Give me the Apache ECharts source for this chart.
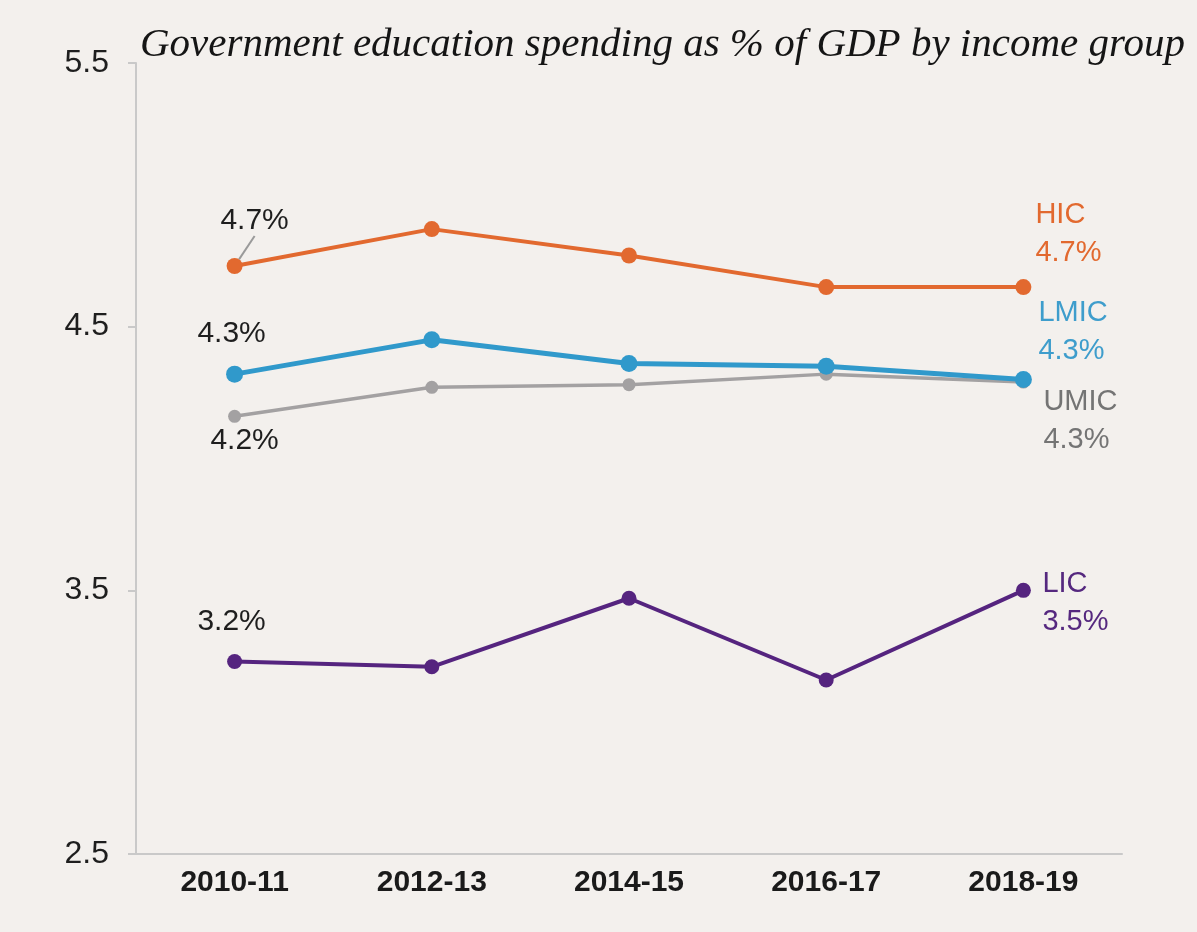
<!DOCTYPE html>
<html>
<head>
<meta charset="utf-8">
<script src="https://cdn.jsdelivr.net/npm/echarts@6/dist/echarts.min.js"></script>
<style>
  html, body { margin: 0; padding: 0; background: #f3f0ed; }
  #chart { width: 1197px; height: 932px; }
</style>
</head>
<body>
<div id="chart"></div>
<script>
// Fiscal years on the horizontal axis
const years = ['2010-11', '2012-13', '2014-15', '2016-17', '2018-19'];

// Government education spending, % of GDP, per income group
const hic  = [4.73, 4.87, 4.77, 4.65, 4.65];
const lmic = [4.32, 4.45, 4.36, 4.35, 4.30];
const umic = [4.16, 4.27, 4.28, 4.32, 4.29];
const lic  = [3.23, 3.21, 3.47, 3.16, 3.50];

const yTicks = [2.5, 3.5, 4.5, 5.5];

const SANS = '"Liberation Sans", Arial, sans-serif';
const pct = v => v.toFixed(1) + '%';

// Start value label and end-of-line name label for a series
function buildData(values, name, color, startOffset, endOffset) {
  const last = values.length - 1;
  return values.map((v, i) => {
    if (i === 0) {
      return {
        value: v,
        label: {
          show: true, position: 'inside', offset: startOffset,
          formatter: p => pct(p.value),
          color: '#1e1e1e', fontSize: 30, fontFamily: SANS
        }
      };
    }
    if (i === last) {
      return {
        value: v,
        label: {
          show: true, position: 'inside', offset: endOffset,
          align: 'left', verticalAlign: 'middle', lineHeight: 38,
          formatter: p => name + '\n' + pct(p.value),
          color: color, fontSize: 29, fontFamily: SANS
        }
      };
    }
    return v;
  });
}

function lineSeries(name, values, color, textColor, width, symSize, startOffset, endOffset, z) {
  return {
    name: name,
    type: 'line',
    data: buildData(values, name, textColor, startOffset, endOffset),
    symbol: 'circle',
    symbolSize: symSize,
    z: z,
    lineStyle: { color: color, width: width },
    itemStyle: { color: color },
    emphasis: { disabled: true },
    animation: false
  };
}

const series = [
  lineSeries('UMIC', umic, '#a3a1a2', '#747474', 3.5, 13, [10, 24], [20, 39], 2),
  lineSeries('LMIC', lmic, '#3099cb', '#3e9dcc', 5, 17, [-3, -40], [15, -47], 3),
  lineSeries('HIC',  hic,  '#e2692f', '#e2692f', 4, 16, [0, 0],   [0, 0], 4),
  lineSeries('LIC',  lic,  '#55247f', '#55287f', 4, 15, [-3, -40], [19, 13], 5)
];

// The first HIC label sits up-right of its point with a short guide line
series[2].data[0].labelLine = { show: true, lineStyle: { color: '#9a9a9a', width: 2 } };
series[2].labelLayout = p => {
  if (p.dataIndex === 0) return { dx: 20, dy: -45 };
  if (p.dataIndex === hic.length - 1) return { dx: 12, dy: -53 };
  return {};
};

const chart = echarts.init(document.getElementById('chart'), null, { renderer: 'canvas' });
chart.setOption({
  backgroundColor: '#f3f0ed',
  animation: false,
  title: {
    text: 'Government education spending as % of GDP by income group',
    left: 135,
    top: 20,
    textStyle: {
      fontFamily: '"Liberation Serif", "DejaVu Serif", serif',
      fontStyle: 'italic',
      fontWeight: 'normal',
      fontSize: 41,
      color: '#151515'
    }
  },
  grid: { left: 136, right: 75, top: 63, bottom: 78, containLabel: false },
  xAxis: {
    type: 'category',
    data: years,
    boundaryGap: true,
    axisLine: { lineStyle: { color: '#c9c9c9', width: 2 } },
    axisTick: { show: false },
    axisLabel: {
      color: '#1a1a1a', fontSize: 30, fontWeight: 'bold', fontFamily: SANS, margin: 14
    }
  },
  yAxis: {
    type: 'value',
    min: yTicks[0],
    max: yTicks[yTicks.length - 1],
    interval: 1,
    axisLine: { show: true, lineStyle: { color: '#c9c9c9', width: 2 } },
    axisTick: { show: true, length: 8, lineStyle: { color: '#c9c9c9', width: 2 } },
    splitLine: { show: false },
    axisLabel: {
      color: '#1e1e1e', fontSize: 32, fontFamily: SANS, margin: 27,
      formatter: v => v.toFixed(1)
    }
  },
  series: series
});
</script>
</body>
</html>
